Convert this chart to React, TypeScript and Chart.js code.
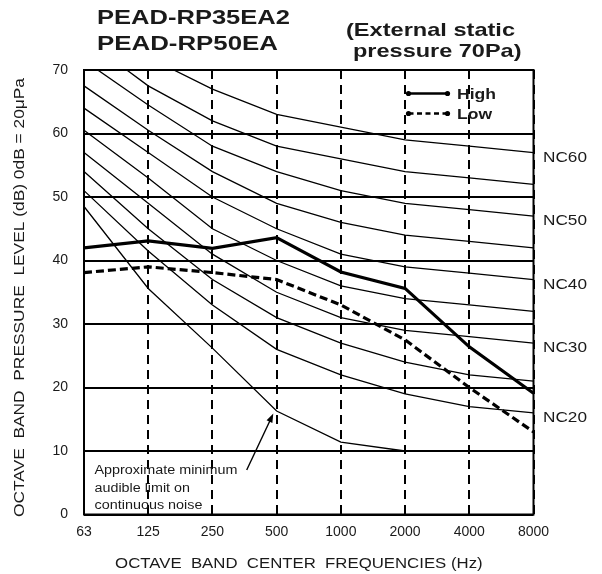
import { useEffect, useRef } from 'react';
import { Chart, registerables } from 'chart.js';

Chart.register(...registerables);

// ---- data ----
const FREQUENCIES = ['63', '125', '250', '500', '1000', '2000', '4000', '8000'];
const Y_MIN = 0;
const Y_MAX = 70;
const Y_STEP = 10;

const NC20 = [51, 41.5, 33, 26, 22, 19, 17, 16];
const NC25 = [54, 45, 37, 31, 27, 24, 22, 21];
const NC30 = [57, 49, 41, 35, 31, 29, 28, 27];
const NC35 = [60.5, 53, 45, 40, 36, 34, 33, 32];
const NC40 = [64, 57, 50, 45, 41, 39, 38, 37];
const NC45 = [67.5, 60.5, 54, 49, 46, 44, 43, 42];
const NC50 = [71.5, 64.5, 58, 54, 51, 49, 48, 47];
const NC55 = [75, 67.5, 62, 58, 56, 54, 53, 52];
const NC60 = [77, 72, 67, 63, 61, 59, 58, 57];
const MIN_AUDIBLE = [48.5, 35.6, 26.2, 16.3, 11.4, 10, 10, 10];

const HIGH = [42.0, 43.1, 41.9, 43.6, 38.2, 35.6, 26.4, 19.1];
const LOW = [38.1, 39.0, 38.1, 37.0, 33.0, 27.5, 20.0, 13.0];

const NC_CURVES: [string, number[]][] = [
  ['NC60', NC60],
  ['NC55', NC55],
  ['NC50', NC50],
  ['NC45', NC45],
  ['NC40', NC40],
  ['NC35', NC35],
  ['NC30', NC30],
  ['NC25', NC25],
  ['NC20', NC20],
];
const NC_LABELED = ['NC60', 'NC50', 'NC40', 'NC30', 'NC20'];

const TITLE_LINES = ['PEAD-RP35EA2', 'PEAD-RP50EA'];
const SUBTITLE_LINES = ['(External static', 'pressure 70Pa)'];
const LEGEND_LABELS = ['High', 'Low'];
const NOTE_LINES = ['Approximate minimum', 'audible limit on', 'continuous noise'];
const X_TITLE = 'OCTAVE  BAND  CENTER  FREQUENCIES (Hz)';
const Y_TITLE = 'OCTAVE  BAND  PRESSURE  LEVEL (dB) 0dB = 20\u03bcPa';

const FONT = '"Liberation Sans", Arial, Helvetica, sans-serif';
const TEXT = '#1a1a1a';

function fitText(
  ctx: CanvasRenderingContext2D,
  text: string,
  x: number,
  y: number,
  font: string,
  width: number,
  align: CanvasTextAlign = 'left'
) {
  ctx.save();
  ctx.font = font;
  const w = ctx.measureText(text).width;
  const sx = width / w;
  ctx.translate(x, y);
  ctx.scale(sx, 1);
  ctx.textAlign = align;
  ctx.textBaseline = 'alphabetic';
  ctx.fillStyle = TEXT;
  ctx.fillText(text, 0, 0);
  ctx.restore();
}

const decorPlugin = {
  id: 'decor',
  afterDraw(chart: any) {
    const ctx: CanvasRenderingContext2D = chart.ctx;
    const a = chart.chartArea;
    const ys = chart.scales.y;
    ctx.save();

    // frame
    ctx.strokeStyle = '#000';
    ctx.lineWidth = 2;
    ctx.setLineDash([]);
    ctx.strokeRect(a.left, a.top, a.right - a.left, a.bottom - a.top);

    // titles
    fitText(ctx, TITLE_LINES[0], 97, 24, `bold 20px ${FONT}`, 193);
    fitText(ctx, TITLE_LINES[1], 97, 50, `bold 20px ${FONT}`, 181);
    fitText(ctx, SUBTITLE_LINES[0], 346, 36, `bold 18.5px ${FONT}`, 169);
    fitText(ctx, SUBTITLE_LINES[1], 353, 56.5, `bold 18.5px ${FONT}`, 168.5);

    // NC labels at right end of curves
    chart.data.datasets.forEach((ds: any) => {
      if (NC_LABELED.includes(ds.label)) {
        const last = ds.data[ds.data.length - 1];
        const py = ys.getPixelForValue(last) + 9;
        fitText(ctx, ds.label, a.right + 9.5, py, `14px ${FONT}`, 44);
      }
    });

    // legend
    const lx0 = 408.5;
    const lx1 = 447.5;
    const rows = [93.5, 113.5];
    rows.forEach((ry, i) => {
      ctx.strokeStyle = '#000';
      ctx.lineWidth = 2.5;
      ctx.setLineDash(i === 0 ? [] : [5, 3.5]);
      ctx.beginPath();
      ctx.moveTo(lx0, ry);
      ctx.lineTo(lx1, ry);
      ctx.stroke();
      ctx.setLineDash([]);
      ctx.fillStyle = '#000';
      [lx0, lx1].forEach((px) => {
        ctx.beginPath();
        ctx.arc(px, ry, 2.6, 0, Math.PI * 2);
        ctx.fill();
      });
      fitText(ctx, LEGEND_LABELS[i], 457, ry + 5, `bold 14px ${FONT}`, i === 0 ? 39 : 35);
    });

    // note
    fitText(ctx, NOTE_LINES[0], 94.5, 473.5, `12px ${FONT}`, 143);
    fitText(ctx, NOTE_LINES[1], 94.5, 491.5, `12px ${FONT}`, 95.5);
    fitText(ctx, NOTE_LINES[2], 94.5, 509, `12px ${FONT}`, 108);

    // arrow
    const tx = 273.3, ty = 413.5, fx = 246.7, fy = 470;
    const ang = Math.atan2(ty - fy, tx - fx);
    ctx.strokeStyle = '#000';
    ctx.lineWidth = 1.4;
    ctx.beginPath();
    ctx.moveTo(fx, fy);
    ctx.lineTo(tx - 6 * Math.cos(ang), ty - 6 * Math.sin(ang));
    ctx.stroke();
    ctx.fillStyle = '#000';
    ctx.beginPath();
    ctx.moveTo(tx, ty);
    ctx.lineTo(tx - 9 * Math.cos(ang) + 3.2 * Math.sin(ang), ty - 9 * Math.sin(ang) - 3.2 * Math.cos(ang));
    ctx.lineTo(tx - 9 * Math.cos(ang) - 3.2 * Math.sin(ang), ty - 9 * Math.sin(ang) + 3.2 * Math.cos(ang));
    ctx.closePath();
    ctx.fill();

    // axis titles
    fitText(ctx, X_TITLE, (115 + 482.7) / 2, 568, `14px ${FONT}`, 367.5, 'center');
    ctx.save();
    ctx.translate(24, 297.5);
    ctx.rotate(-Math.PI / 2);
    fitText(ctx, Y_TITLE, 0, 0, `14px ${FONT}`, 439, 'center');
    ctx.restore();

    ctx.restore();
  },
};

export default function App() {
  const ref = useRef<HTMLCanvasElement>(null);

  useEffect(() => {
    const canvas = ref.current;
    if (!canvas) return;

    const ncSets = NC_CURVES.map(([name, values]) => ({
      label: name,
      data: values,
      borderColor: '#000',
      borderWidth: 1.3,
      pointRadius: 0,
      tension: 0,
      fill: false,
    }));

    const chart = new Chart(canvas, {
      type: 'line',
      data: {
        labels: FREQUENCIES,
        datasets: [
          {
            label: 'High',
            data: HIGH,
            borderColor: '#000',
            borderWidth: 3.2,
            pointRadius: 0,
            tension: 0,
            fill: false,
          },
          {
            label: 'Low',
            data: LOW,
            borderColor: '#000',
            borderWidth: 3.2,
            borderDash: [8, 4],
            pointRadius: 0,
            tension: 0,
            fill: false,
          },
          ...ncSets,
          {
            label: 'MinAudible',
            data: MIN_AUDIBLE,
            borderColor: '#000',
            borderWidth: 1.3,
            pointRadius: 0,
            tension: 0,
            fill: false,
          },
        ],
      },
      options: {
        responsive: false,
        devicePixelRatio: 1,
        animation: false,
        layout: { padding: { left: 0, top: 70, right: 68.5, bottom: 0 } },
        plugins: {
          legend: { display: false },
          tooltip: { enabled: false },
          title: { display: false },
        },
        scales: {
          x: {
            type: 'category',
            offset: false,
            grid: { color: '#000', lineWidth: 2, drawTicks: false },
            border: { display: false, dash: [9, 6] },
            ticks: {
              color: TEXT,
              font: { family: FONT, size: 14 },
              padding: 9,
              maxRotation: 0,
              autoSkip: false,
            },
            afterFit: (s: any) => {
              s.height = 59.5;
            },
          },
          y: {
            min: Y_MIN,
            max: Y_MAX,
            grid: { color: '#000', lineWidth: 2, drawTicks: false },
            border: { display: false },
            ticks: {
              stepSize: Y_STEP,
              color: TEXT,
              font: { family: FONT, size: 14 },
              padding: 16,
            },
            afterFit: (s: any) => {
              s.width = 84;
            },
          },
        },
      },
      plugins: [decorPlugin],
    } as any);

    return () => chart.destroy();
  }, []);

  return (
    <div style={{ position: 'absolute', left: 0, top: 0, width: 602, height: 574, background: '#fff' }}>
      <canvas ref={ref} width={602} height={574} style={{ display: 'block', width: 602, height: 574 }} />
    </div>
  );
}
